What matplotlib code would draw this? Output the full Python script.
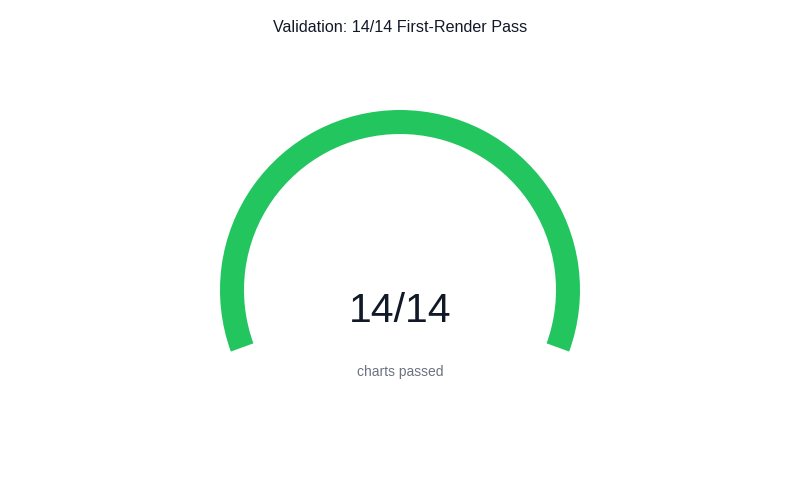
import matplotlib.pyplot as plt
from matplotlib.patches import Wedge

plt.rcParams['font.family'] = ['Liberation Sans', 'DejaVu Sans']

passed = 14
total = 14
title = 'Validation: 14/14 First-Render Pass'
label = 'charts passed'

start_angle = 200
end_angle = -20

fig = plt.figure(figsize=(8, 5), dpi=100)
ax = fig.add_axes([0, 0, 1, 1])
ax.set_xlim(0, 800)
ax.set_ylim(0, 500)
ax.set_aspect('equal')
ax.axis('off')

cx, cy = 400, 210
frac = passed / total
theta = start_angle - (start_angle - end_angle) * frac
ax.add_patch(Wedge((cx, cy), 180, theta, start_angle, width=24, color='#22c55e', lw=0))

ax.text(cx, 500 - 311, f'{passed}/{total}', ha='center', va='center', fontsize=29.5, color='#111827')
ax.text(cx, 500 - 372, label, ha='center', va='center', fontsize=10, color='#6b7280')
ax.text(400, 500 - 28, title, ha='center', va='center', fontsize=11.6, color='#111827')

fig.savefig('out.png', dpi=100)
